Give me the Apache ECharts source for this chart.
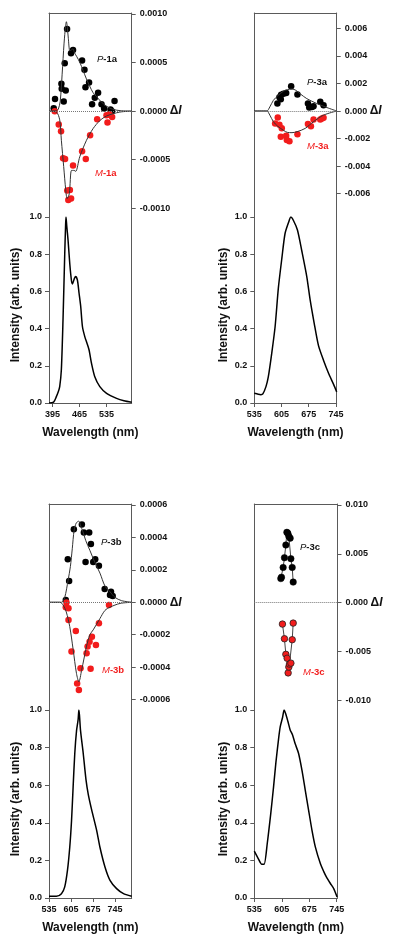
<!DOCTYPE html>
<html><head><meta charset="utf-8">
<script src="https://cdn.jsdelivr.net/npm/echarts@6/dist/echarts.min.js"></script>
<style>html,body{margin:0;padding:0;background:#fff}#c{width:400px;height:948px}</style>
</head><body><div id="c"></div>
<script>
// ---------- Panel 1a (top-left) ----------
const pl1a = [[386,0],[398,0.005],[405,0.034],[410,0.06],[413.7,0.088],[418,0.18],[422.3,0.45],[426.7,0.80],[429,0.96],[430,1.0],[432,0.95],[435.3,0.876],[439.7,0.75],[444,0.66],[446.6,0.64],[451.8,0.67],[455,0.68],[459.6,0.66],[463.8,0.59],[468,0.52],[472.6,0.41],[478.6,0.357],[484.5,0.32],[489.7,0.285],[496,0.213],[504.5,0.141],[517.5,0.088],[535,0.052],[560.8,0.025],[580,0.012],[600,0.004]];
const p1aPts = [[432.7,0.000845],[426.7,0.000493],[443,0.000595],[448.2,0.00063],[471.6,0.00052],[477.8,0.000425],[418.1,0.000282],[418.9,0.00023],[429.3,0.000213],[424.1,0.0001],[401.6,0.000124],[398.2,0.00003],[480.4,0.000247],[489.7,0.000295],[513,0.00019],[504.5,0.000138],[497.5,0.00007],[521.9,0.00007],[528.6,0.000026],[545.2,0.000018],[555.6,0.000103],[548.6,0.0]];
const m1aPts = [[400.8,0],[411.2,-0.000138],[417.2,-0.000207],[422.4,-0.000484],[427.6,-0.000494],[448.2,-0.000559],[471.6,-0.000412],[481.2,-0.000494],[492.4,-0.000248],[510.6,-0.000084],[433.2,-0.000818],[440,-0.000811],[436,-0.000914],[443.1,-0.0009],[537.4,-0.000118],[534.8,-0.000043],[542.6,-0.000033],[549.4,-0.00006]];
const p1aFit = [[386,0],[405,0.000005],[410,0.00002],[415,0.0001],[420,0.00038],[425,0.0007],[429,0.00088],[431,0.00092],[433,0.00088],[436,0.00075],[440,0.00062],[444,0.00063],[448,0.00064],[452,0.0006],[458,0.00056],[466,0.0005],[474,0.00042],[482,0.00034],[491,0.00026],[500,0.00019],[509,0.00015],[520,0.0001],[535,0.00005],[550,0.00002],[570,0.000005],[600,0]];
const m1aFit = [[386,0],[405,-0.00001],[413.7,-0.00009],[418,-0.0003],[424,-0.00057],[429.3,-0.00081],[433,-0.0009],[438.5,-0.00085],[444.3,-0.00061],[451,-0.00061],[455,-0.00062],[465.6,-0.00047],[483,-0.0003],[500,-0.00018],[517,-0.0001],[535,-0.00005],[569,-0.00001],[600,0]];

// ---------- Panel 3a (top-right) ----------
const pl3a = [[535,0.052],[545,0.047],[552,0.045],[557,0.049],[565,0.088],[571,0.14],[580,0.27],[588.5,0.41],[597,0.62],[606,0.78],[614,0.91],[623,0.97],[629,1.0],[636,0.98],[646,0.93],[657,0.82],[670,0.68],[679,0.55],[689,0.43],[700,0.31],[713,0.23],[726,0.16],[739,0.1],[747,0.06]];
const p3aPts = [[594.4,0.00054],[599.6,0.001],[604,0.00118],[610,0.00125],[617,0.0013],[603.2,0.00085],[629.8,0.0018],[646,0.0012],[673,0.00054],[676.3,0.00025],[683.3,0.0003],[687.4,0.00034],[704.7,0.00068],[713.2,0.00042]];
const m3aPts = [[595.4,-0.00047],[588.5,-0.0009],[599.6,-0.001],[605.7,-0.00125],[603.2,-0.00186],[617,-0.0018],[618.7,-0.0021],[625.4,-0.0022],[646,-0.00169],[673,-0.00095],[680.7,-0.0011],[687.4,-0.00061],[704.7,-0.00061],[713.2,-0.00049],[709,-0.00055]];
const p3aFit = [[535,0],[567,0],[575,0.0003],[584,0.00077],[595,0.0011],[610,0.00144],[620,0.00155],[632,0.0016],[642,0.0015],[653,0.00125],[670,0.0009],[696,0.00054],[722,0.00025],[747,0]];
const m3aFit = [[535,0],[567,0],[575,-0.0003],[584,-0.00077],[595,-0.0011],[610,-0.0014],[620,-0.00155],[632,-0.00157],[645,-0.0015],[666,-0.00126],[687,-0.00078],[713,-0.0003],[747,0]];

// ---------- Panel 3b (bottom-left) ----------
const pl3b = [[535,0.009],[558.6,0.009],[574.6,0.023],[585,0.059],[593.8,0.148],[601,0.27],[606.6,0.41],[611.7,0.59],[617,0.77],[622.6,0.89],[627.7,0.95],[630,1.0],[632,0.97],[635.3,0.89],[643.8,0.77],[652.6,0.63],[660,0.55],[670.5,0.47],[686.5,0.36],[697,0.27],[713,0.165],[729,0.094],[750,0.05],[772,0.023],[798,0.009]];
const p3bPts = [[588.4,0.000014],[599,0.000131],[594.8,0.000265],[614,0.00045],[639.5,0.00048],[645.9,0.00043],[662.8,0.00043],[668.3,0.00036],[651.3,0.000248],[675.6,0.000248],[682,0.000265],[693.8,0.000225],[712,0.000082],[732.2,0.000065],[729,0.000045],[737.6,0.000039]];
const m3bPts = [[590.6,-0.000002],[588.4,-0.00003],[597,-0.000037],[597,-0.000109],[620.3,-0.000177],[606.6,-0.000304],[657.7,-0.000273],[671.5,-0.000212],[664,-0.000244],[684.3,-0.000263],[654.5,-0.000314],[693.8,-0.000129],[635.3,-0.000406],[667.3,-0.00041],[624.5,-0.0005],[630,-0.00054],[725.8,-0.000017]];
const p3bFit = [[535,0],[575,0],[585,0.00003],[595.8,0.000137],[603,0.00022],[609,0.00033],[615,0.000445],[622,0.00049],[630,0.0005],[636,0.00047],[642,0.00044],[652,0.00038],[665,0.00032],[680,0.00025],[697,0.00018],[713,0.0001],[729,0.000065],[745,0.00003],[766,0.00001],[798,0]];
const m3bFit = [[535,0],[570,0],[580,-0.000017],[590,-0.00006],[601,-0.00015],[611.7,-0.00029],[622.5,-0.00044],[630,-0.00049],[638.6,-0.00042],[646,-0.00035],[654.5,-0.00027],[665,-0.0002],[675.6,-0.00017],[697,-0.0001],[713,-0.00005],[729,-0.00003],[761,-0.000007],[798,0]];

// ---------- Panel 3c (bottom-right) ----------
const pl3c = [[535,0.249],[545,0.21],[554,0.18],[560,0.18],[568,0.29],[577,0.45],[584,0.59],[590,0.72],[596.5,0.84],[601,0.91],[607,0.96],[611,1.0],[615,0.98],[620.5,0.94],[626.4,0.894],[632.3,0.868],[639.2,0.82],[647.7,0.77],[656.4,0.68],[664.8,0.574],[673.3,0.468],[682,0.36],[690.5,0.272],[703.3,0.183],[712,0.14],[718.6,0.112],[728.9,0.077],[737.3,0.05],[746,0.005]];
const p3cPts = [[602.6,0.00246],[604.2,0.0026],[608.5,0.0036],[611.8,0.0046],[615.4,0.0059],[618,0.0072],[620.5,0.0071],[623,0.0068],[626.4,0.0066],[628.2,0.0045],[631.6,0.0036],[634.1,0.0021]];
const m3cPts = [[606.7,-0.0022],[611.8,-0.0037],[615.4,-0.0053],[618.7,-0.0057],[621.2,-0.0072],[623,-0.0066],[624.6,-0.0063],[628.2,-0.0062],[631.6,-0.0038],[634.1,-0.0021]];

// ---------- tick labels ----------
const ticks1aX = [395,465,535];
const ticksX = [535,605,675,745];
const ticks1aY = [-0.001,-0.0005,0,0.0005,0.001];
const ticks3aY = [-0.006,-0.004,-0.002,0,0.002,0.004,0.006];
const ticks3bY = [-0.0006,-0.0004,-0.0002,0,0.0002,0.0004,0.0006];
const ticks3cY = [-0.01,-0.005,0,0.005,0.01];

const FONT = "'Liberation Sans', Arial, Helvetica, sans-serif";
const AX = '#5a5a5a';
const TXT = '#111';
const RED = '#f21c1c';

const grid=[], xAxis=[], yAxis=[], series=[], graphic=[];

function addPanel(c){
  const gC = grid.length;
  grid.push({left:c.left, width:c.width, top:c.cTop, height:c.cH});
  const gP = grid.length;
  grid.push({left:c.left, width:c.width, top:c.pTop, height:c.pH});
  const lineS = {color:AX, width:1};
  const xC = xAxis.length;
  xAxis.push({type:'value', gridIndex:gC, position:'top', min:c.xMin, max:c.xMax,
    axisLine:{show:true,onZero:false,lineStyle:lineS}, axisTick:{show:false}, axisLabel:{show:false}, splitLine:{show:false}});
  const xP = xAxis.length;
  xAxis.push({type:'value', gridIndex:gP, position:'bottom', min:c.xMin, max:c.xMax,
    name:'Wavelength (nm)', nameLocation:'middle', nameGap:24,
    nameTextStyle:{fontFamily:FONT, fontSize:12, fontWeight:'bold', color:TXT},
    axisLine:{show:true,onZero:false,lineStyle:lineS},
    axisTick:{show:true, length:4, customValues:c.xTicks, lineStyle:lineS},
    axisLabel:{customValues:c.xTicks, margin:7, fontFamily:FONT, fontSize:9, fontWeight:'bold', color:TXT},
    splitLine:{show:false}});
  const yCL = yAxis.length;
  yAxis.push({type:'value', gridIndex:gC, position:'left', min:c.yMin, max:c.yMax,
    axisLine:{show:true,onZero:false,lineStyle:lineS}, axisTick:{show:false}, axisLabel:{show:false}, splitLine:{show:false}});
  const yCR = yAxis.length;
  yAxis.push({type:'value', gridIndex:gC, position:'right', min:c.yMin, max:c.yMax,
    axisLine:{show:true,onZero:false,lineStyle:lineS},
    axisTick:{show:true, length:4, customValues:c.yTicks, lineStyle:lineS},
    axisLabel:{customValues:c.yTicks, margin:8, fontFamily:FONT, fontSize:9, fontWeight:'bold', color:TXT,
      formatter:function(v){
        const s = (Math.abs(v)<1e-12 ? 0 : v).toFixed(c.dec);
        if (Math.abs(v)<1e-12) return '{n|'+s+'} {d|\u0394}{i|I}';
        return s;
      },
      rich:{n:{fontFamily:FONT,fontSize:9,fontWeight:'bold',color:TXT},
            d:{fontFamily:FONT,fontSize:12,fontWeight:'bold',color:TXT},
            i:{fontFamily:FONT,fontSize:12,fontWeight:'bold',fontStyle:'italic',color:TXT}}},
    splitLine:{show:false}});
  const yPL = yAxis.length;
  yAxis.push({type:'value', gridIndex:gP, position:'left', min:0, max:1, interval:0.2,
    name:'Intensity (arb. units)', nameLocation:'middle', nameGap:c.nameGap,
    nameTextStyle:{fontFamily:FONT, fontSize:12, fontWeight:'bold', color:TXT, padding:[0,0,0,10]},
    axisLine:{show:true,onZero:false,lineStyle:lineS},
    axisTick:{show:true,length:4,lineStyle:lineS},
    axisLabel:{margin:7, fontFamily:FONT, fontSize:9, fontWeight:'bold', color:TXT, formatter:v=>v.toFixed(1)},
    splitLine:{show:false}});
  const yPR = yAxis.length;
  yAxis.push({type:'value', gridIndex:gP, position:'right', min:0, max:1,
    axisLine:{show:true,onZero:false,lineStyle:lineS}, axisTick:{show:false}, axisLabel:{show:false}, splitLine:{show:false}});

  series.push({type:'line', xAxisIndex:xP, yAxisIndex:yPL, data:c.pl, showSymbol:false, smooth:0.25,
    lineStyle:{color:'#000', width:1.5}, silent:true, z:3});

  const zeroLine = {silent:true, symbol:['none','none'], label:{show:false},
    lineStyle:{type:'dotted', color:'#777', width:1}, data:[{yAxis:0}]};

  if (c.connected){
    series.push({type:'line', xAxisIndex:xC, yAxisIndex:yCR, data:c.pPts, symbol:'circle', symbolSize:6.5,
      itemStyle:{color:'#000', borderColor:'#000', borderWidth:0.5, opacity:1}, lineStyle:{color:'#444', width:1},
      markLine:zeroLine, silent:true, z:4});
    series.push({type:'line', xAxisIndex:xC, yAxisIndex:yCR, data:c.mPts, symbol:'circle', symbolSize:6.5,
      itemStyle:{color:RED, borderColor:'#222', borderWidth:0.8, opacity:1}, lineStyle:{color:'#444', width:1},
      silent:true, z:4});
  } else {
    series.push({type:'scatter', xAxisIndex:xC, yAxisIndex:yCR, data:c.pPts, symbolSize:6.5,
      itemStyle:{color:'#000', opacity:1}, markLine:zeroLine, silent:true, z:3});
    series.push({type:'scatter', xAxisIndex:xC, yAxisIndex:yCR, data:c.mPts, symbolSize:6.5,
      itemStyle:{color:RED, opacity:1}, silent:true, z:3});
    series.push({type:'line', xAxisIndex:xC, yAxisIndex:yCR, data:c.pFit, showSymbol:false, smooth:0.3,
      lineStyle:{color:'#333', width:1}, silent:true, z:4});
    series.push({type:'line', xAxisIndex:xC, yAxisIndex:yCR, data:c.mFit, showSymbol:false, smooth:0.3,
      lineStyle:{color:'#333', width:1}, silent:true, z:4});
  }

  graphic.push({type:'text', x:c.pLab[0], y:c.pLab[1], silent:true, style:{
    text:'{i|P}{b|-'+c.tag+'}', verticalAlign:'middle', align:'left',
    rich:{i:{fontFamily:FONT,fontSize:9.5,fontStyle:'italic',fill:'#111'}, b:{fontFamily:FONT,fontSize:9.5,fontWeight:'bold',fill:'#111'}}}});
  graphic.push({type:'text', x:c.mLab[0], y:c.mLab[1], silent:true, style:{
    text:'{i|M}{b|-'+c.tag+'}', verticalAlign:'middle', align:'left',
    rich:{i:{fontFamily:FONT,fontSize:9.5,fontStyle:'italic',fill:RED}, b:{fontFamily:FONT,fontSize:9.5,fontWeight:'bold',fill:RED}}}});
}

addPanel({left:49, width:82.7, cTop:13, cH:205, pTop:217, pH:186, xMin:386, xMax:600,
  xTicks:ticks1aX, yMin:-0.0011, yMax:0.00101, yTicks:ticks1aY, dec:4, nameGap:27,
  pl:pl1a, pPts:p1aPts, mPts:m1aPts, pFit:p1aFit, mFit:m1aFit, tag:'1a', pLab:[97,59], mLab:[95,173]});
addPanel({left:254.3, width:82.4, cTop:13, cH:205, pTop:217, pH:186, xMin:535, xMax:747,
  xTicks:ticksX, yMin:-0.00776, yMax:0.00711, yTicks:ticks3aY, dec:3, nameGap:25,
  pl:pl3a, pPts:p3aPts, mPts:m3aPts, pFit:p3aFit, mFit:m3aFit, tag:'3a', pLab:[307,82], mLab:[307,146]});
addPanel({left:49, width:82.7, cTop:504, cH:206, pTop:710, pH:188, xMin:535, xMax:798,
  xTicks:ticksX, yMin:-0.000664, yMax:0.000606, yTicks:ticks3bY, dec:4, nameGap:27,
  pl:pl3b, pPts:p3bPts, mPts:m3bPts, pFit:p3bFit, mFit:m3bFit, tag:'3b', pLab:[101,542], mLab:[102,670]});
addPanel({left:254.3, width:83.2, cTop:504, cH:206, pTop:710, pH:188, xMin:535, xMax:747,
  xTicks:ticksX, yMin:-0.011, yMax:0.0101, yTicks:ticks3cY, dec:3, nameGap:25, connected:true,
  pl:pl3c, pPts:p3cPts, mPts:m3cPts, tag:'3c', pLab:[300,547], mLab:[303,672]});

const chart = echarts.init(document.getElementById('c'), null, {renderer:'canvas'});
chart.setOption({animation:false, backgroundColor:'#fff', grid, xAxis, yAxis, series, graphic});
</script></body></html>
